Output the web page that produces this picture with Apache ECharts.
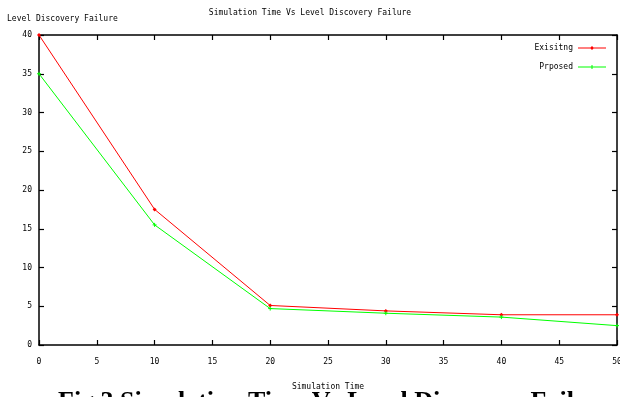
<!DOCTYPE html>
<html><head><meta charset="utf-8">
<script src="https://cdn.jsdelivr.net/npm/echarts@6/dist/echarts.min.js"></script>
<style>html,body{margin:0;padding:0;background:#fff}#c{width:620px;height:397px}</style>
</head><body><div id="c"></div>
<script>
const times = [0, 10, 20, 30, 40, 50];
const existing = [40, 17.5, 5.1, 4.4, 3.9, 3.9];
const proposed = [35, 15.5, 4.7, 4.1, 3.6, 2.5];
const seriesNames = ['Exisitng', 'Prposed'];
const titleText = 'Simulation Time Vs Level Discovery Failure';
const yName = 'Level Discovery Failure';
const xName = 'Simulation Time';
const caption = 'Fig.3 Simulation Time Vs Level Discovery Failure';

const mono = 'DejaVu Sans Mono';
const chart = echarts.init(document.getElementById('c'), null, {renderer: 'canvas'});
const axisLine = {show: true, onZero: false, lineStyle: {color: '#000', width: 1.5}};
const tick = {show: true, inside: true, length: 5, lineStyle: {color: '#000', width: 1.2}};
const lbl = {fontFamily: mono, fontSize: 8, color: '#000'};
chart.setOption({
  animation: false,
  backgroundColor: '#fff',
  title: {text: titleText, left: 'center', top: 4, textStyle: {fontFamily: mono, fontSize: 8, fontWeight: 'normal', color: '#000'}},
  grid: {left: 39, right: 3, top: 35, bottom: 52, containLabel: false, outerBoundsMode: 'none'},
  legend: {
    orient: 'vertical', right: 9, top: 39, align: 'right', itemWidth: 28, itemHeight: 4, itemGap: 11,
    textStyle: {fontFamily: mono, fontSize: 8, color: '#000'},
    itemStyle: {borderWidth: 0},
    data: [
      {name: seriesNames[0], icon: 'path://M0,1.5H28V2.5H0ZM14,0L16,2L14,4L12,2Z', itemStyle: {borderWidth: 0}},
      {name: seriesNames[1], icon: 'path://M0,1.5H28V2.5H0ZM13.5,0H14.5V4H13.5Z', itemStyle: {borderWidth: 0}}
    ]
  },
  xAxis: [
    {type: 'value', min: 0, max: 50, interval: 5, position: 'bottom', axisLine, axisTick: tick, splitLine: {show: false},
     axisLabel: Object.assign({margin: 13}, lbl),
     name: xName, nameLocation: 'middle', nameGap: 38, nameTextStyle: lbl},
    {type: 'value', min: 0, max: 50, interval: 5, position: 'top', axisLine, axisTick: tick, splitLine: {show: false}, axisLabel: {show: false}}
  ],
  yAxis: [
    {type: 'value', min: 0, max: 40, interval: 5, position: 'left', axisLine, axisTick: tick, splitLine: {show: false},
     axisLabel: Object.assign({margin: 7}, lbl)},
    {type: 'value', min: 0, max: 40, interval: 5, position: 'right', axisLine, axisTick: tick, splitLine: {show: false}, axisLabel: {show: false}}
  ],
  graphic: [
    {type: 'text', left: 7, top: 15, style: {text: yName, fontFamily: mono, fontSize: 8, fill: '#000'}},
    {type: 'text', left: 58, top: 389, style: {text: caption, fontFamily: 'Liberation Serif', fontWeight: 'bold', fontSize: 26, fill: '#000'}}
  ],
  series: [
    {name: seriesNames[0], type: 'line', xAxisIndex: 0, yAxisIndex: 0, data: times.map((t, i) => [t, existing[i]]), symbol: 'diamond', symbolSize: 4,
     lineStyle: {color: '#ff0000', width: 1}, itemStyle: {color: '#ff0000'}},
    {name: seriesNames[1], type: 'line', xAxisIndex: 0, yAxisIndex: 0, data: times.map((t, i) => [t, proposed[i]]), symbol: 'path://M-1,0H1M0,-1V1', symbolSize: 4,
     lineStyle: {color: '#00ff00', width: 1}, itemStyle: {color: '#00ff00', borderColor: '#00ff00', borderWidth: 1}}
  ]
});
</script></body></html>
